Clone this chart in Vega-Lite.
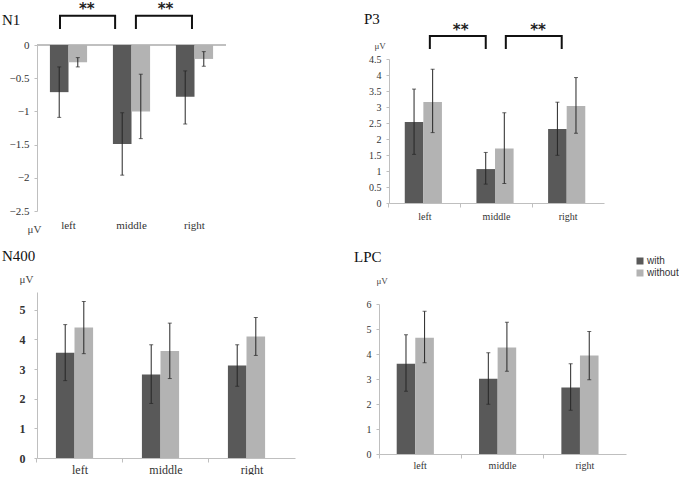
{
  "$schema": "https://vega.github.io/schema/vega-lite/v6.json",
  "background": "white",
  "padding": {"left": 2, "top": 2, "right": 0, "bottom": 0},
  "config": {
    "view": {"stroke": null},
    "axis": {"grid": false, "labelOverlap": false, "labelFont": "Liberation Serif", "labelColor": "#333333", "titleFont": "Liberation Serif", "titleFontWeight": "normal", "titleColor": "#444444", "domainColor": "#bfbfbf", "tickColor": "#bfbfbf"},
    "axisY": {"labelOverlap": false},
    "axisQuantitative": {"labelOverlap": false},
    "title": {"font": "Liberation Serif", "fontSize": 15, "fontWeight": "normal", "color": "#111111", "anchor": "start", "frame": "group"},
    "legend": {"labelFont": "Liberation Sans", "labelFontSize": 10, "labelColor": "#333333"}
  },
  "datasets": {
    "N1": [
      {"region": "left", "cond": "with", "mean": -0.71, "lo": -1.09, "hi": -0.33},
      {"region": "left", "cond": "without", "mean": -0.26, "lo": -0.33, "hi": -0.19},
      {"region": "middle", "cond": "with", "mean": -1.49, "lo": -1.96, "hi": -1.02},
      {"region": "middle", "cond": "without", "mean": -1.0, "lo": -1.41, "hi": -0.44},
      {"region": "right", "cond": "with", "mean": -0.78, "lo": -1.19, "hi": -0.39},
      {"region": "right", "cond": "without", "mean": -0.21, "lo": -0.32, "hi": -0.1}
    ],
    "P3": [
      {"region": "left", "cond": "with", "mean": 2.53, "lo": 1.52, "hi": 3.56},
      {"region": "left", "cond": "without", "mean": 3.16, "lo": 2.2, "hi": 4.18},
      {"region": "middle", "cond": "with", "mean": 1.06, "lo": 0.59, "hi": 1.58},
      {"region": "middle", "cond": "without", "mean": 1.7, "lo": 0.61, "hi": 2.82},
      {"region": "right", "cond": "with", "mean": 2.31, "lo": 1.49, "hi": 3.15},
      {"region": "right", "cond": "without", "mean": 3.03, "lo": 2.18, "hi": 3.92}
    ],
    "N400": [
      {"region": "left", "cond": "with", "mean": 3.55, "lo": 2.61, "hi": 4.5},
      {"region": "left", "cond": "without", "mean": 4.4, "lo": 3.52, "hi": 5.28},
      {"region": "middle", "cond": "with", "mean": 2.82, "lo": 1.84, "hi": 3.82},
      {"region": "middle", "cond": "without", "mean": 3.61, "lo": 2.68, "hi": 4.55},
      {"region": "right", "cond": "with", "mean": 3.12, "lo": 2.42, "hi": 3.82},
      {"region": "right", "cond": "without", "mean": 4.1, "lo": 3.46, "hi": 4.74}
    ],
    "LPC": [
      {"region": "left", "cond": "with", "mean": 3.61, "lo": 2.51, "hi": 4.77},
      {"region": "left", "cond": "without", "mean": 4.65, "lo": 3.65, "hi": 5.71},
      {"region": "middle", "cond": "with", "mean": 3.01, "lo": 1.99, "hi": 4.05},
      {"region": "middle", "cond": "without", "mean": 4.26, "lo": 3.31, "hi": 5.27},
      {"region": "right", "cond": "with", "mean": 2.66, "lo": 1.75, "hi": 3.61},
      {"region": "right", "cond": "without", "mean": 3.94, "lo": 2.97, "hi": 4.9}
    ],
    "N1br": [
      {"id": "a", "k": 1, "px": 0.365, "py": 0.24},
      {"id": "a", "k": 2, "px": 0.365, "py": 0.44},
      {"id": "a", "k": 3, "px": 1.24, "py": 0.44},
      {"id": "a", "k": 4, "px": 1.24, "py": 0.24},
      {"id": "b", "k": 1, "px": 1.57, "py": 0.24},
      {"id": "b", "k": 2, "px": 1.57, "py": 0.44},
      {"id": "b", "k": 3, "px": 2.46, "py": 0.44},
      {"id": "b", "k": 4, "px": 2.46, "py": 0.24}
    ],
    "N1st": [
      {"label": "**", "px": 0.79, "py": 0.535},
      {"label": "**", "px": 2.04, "py": 0.535}
    ],
    "P3br": [
      {"id": "a", "k": 1, "px": 0.57, "py": 4.81},
      {"id": "a", "k": 2, "px": 0.57, "py": 5.22},
      {"id": "a", "k": 3, "px": 1.35, "py": 5.22},
      {"id": "a", "k": 4, "px": 1.35, "py": 4.81},
      {"id": "b", "k": 1, "px": 1.63, "py": 4.81},
      {"id": "b", "k": 2, "px": 1.63, "py": 5.22},
      {"id": "b", "k": 3, "px": 2.41, "py": 5.22},
      {"id": "b", "k": 4, "px": 2.41, "py": 4.81}
    ],
    "P3st": [
      {"label": "**", "px": 1.0, "py": 5.42},
      {"label": "**", "px": 2.08, "py": 5.42}
    ]
  },
  "vconcat": [
    {
      "bounds": "flush",
      "spacing": 163,
      "resolve": {"legend": {"color": "independent"}},
      "hconcat": [
        {
          "width": 189,
          "height": 166,
          "title": {"text": "N1", "dx": -35, "offset": -26},
          "resolve": {"scale": {"x": "independent"}, "axis": {"x": "independent"}},
          "layer": [
            {
              "data": {"name": "N1"},
              "layer": [
                {"mark": {"type": "rule", "color": "#bfbfbf"}, "encoding": {"y": {"datum": 0, "type": "quantitative", "scale": {"domain": [-2.5, 0], "nice": false}, "axis": {"title": "μV", "values": [-2.5, -2, -1.5, -1, -0.5, 0], "format": "~g", "labelOverlap": false, "labelFontSize": 11, "tickSize": 3, "labelPadding": 5, "titleAngle": 0, "titleAlign": "left", "titleBaseline": "alphabetic", "titleX": -10, "titleY": 187, "titleFontSize": 11}}}},
                {
                  "mark": {"type": "bar"},
                  "encoding": {
                    "x": {"field": "region", "type": "nominal", "title": null, "scale": {"paddingInner": 0.41, "paddingOuter": 0.205}, "axis": {"title": null, "labelAngle": 0, "domain": false, "ticks": false, "labelPadding": 8, "labelFontSize": 11}},
                    "xOffset": {"field": "cond", "type": "nominal"},
                    "y": {"field": "mean", "type": "quantitative", "title": "μV", "scale": {"domain": [-2.5, 0], "nice": false}, "axis": {"title": "μV", "values": [-2.5, -2, -1.5, -1, -0.5, 0], "format": "~g", "labelOverlap": false, "labelFontSize": 11, "tickSize": 3, "labelPadding": 5, "titleAngle": 0, "titleAlign": "left", "titleBaseline": "alphabetic", "titleX": -10, "titleY": 187, "titleFontSize": 11}},
                    "color": {"field": "cond", "type": "nominal", "scale": {"domain": ["with", "without"], "range": ["#595959", "#b3b3b3"]}, "legend": null}
                  }
                },
                {"mark": {"type": "rule", "color": "#262626"}, "encoding": {"x": {"field": "region", "type": "nominal", "title": null}, "xOffset": {"field": "cond", "type": "nominal"}, "y": {"field": "lo", "type": "quantitative", "title": "μV", "axis": {"title": "μV", "values": [-2.5, -2, -1.5, -1, -0.5, 0], "format": "~g", "labelOverlap": false, "labelFontSize": 11, "tickSize": 3, "labelPadding": 5, "titleAngle": 0, "titleAlign": "left", "titleBaseline": "alphabetic", "titleX": -10, "titleY": 187, "titleFontSize": 11}}, "y2": {"field": "hi"}}},
                {"mark": {"type": "tick", "size": 4, "thickness": 1, "color": "#262626"}, "encoding": {"x": {"field": "region", "type": "nominal", "title": null}, "xOffset": {"field": "cond", "type": "nominal"}, "y": {"field": "lo", "type": "quantitative", "title": "μV", "axis": {"title": "μV", "values": [-2.5, -2, -1.5, -1, -0.5, 0], "format": "~g", "labelOverlap": false, "labelFontSize": 11, "tickSize": 3, "labelPadding": 5, "titleAngle": 0, "titleAlign": "left", "titleBaseline": "alphabetic", "titleX": -10, "titleY": 187, "titleFontSize": 11}}}},
                {"mark": {"type": "tick", "size": 4, "thickness": 1, "color": "#262626"}, "encoding": {"x": {"field": "region", "type": "nominal", "title": null}, "xOffset": {"field": "cond", "type": "nominal"}, "y": {"field": "hi", "type": "quantitative", "title": "μV", "axis": {"title": "μV", "values": [-2.5, -2, -1.5, -1, -0.5, 0], "format": "~g", "labelOverlap": false, "labelFontSize": 11, "tickSize": 3, "labelPadding": 5, "titleAngle": 0, "titleAlign": "left", "titleBaseline": "alphabetic", "titleX": -10, "titleY": 187, "titleFontSize": 11}}}}
              ]
            },
            {
              "layer": [
                {
                  "data": {"name": "N1br"},
                  "mark": {"type": "line", "color": "#111111", "strokeWidth": 2},
                  "encoding": {
                    "x": {"field": "px", "type": "quantitative", "scale": {"domain": [0, 3], "nice": false, "zero": false}, "axis": null},
                    "y": {"field": "py", "type": "quantitative", "title": "μV", "axis": {"title": "μV", "values": [-2.5, -2, -1.5, -1, -0.5, 0], "format": "~g", "labelOverlap": false, "labelFontSize": 11, "tickSize": 3, "labelPadding": 5, "titleAngle": 0, "titleAlign": "left", "titleBaseline": "alphabetic", "titleX": -10, "titleY": 187, "titleFontSize": 11}},
                    "detail": {"field": "id"},
                    "order": {"field": "k"}
                  }
                },
                {
                  "data": {"name": "N1st"},
                  "mark": {"type": "text", "font": "DejaVu Sans", "fontWeight": "bold", "fontSize": 15, "color": "#222222", "baseline": "middle"},
                  "encoding": {
                    "x": {"field": "px", "type": "quantitative", "axis": null},
                    "y": {"field": "py", "type": "quantitative", "title": "μV", "axis": {"title": "μV", "values": [-2.5, -2, -1.5, -1, -0.5, 0], "format": "~g", "labelOverlap": false, "labelFontSize": 11, "tickSize": 3, "labelPadding": 5, "titleAngle": 0, "titleAlign": "left", "titleBaseline": "alphabetic", "titleX": -10, "titleY": 187, "titleFontSize": 11}},
                    "text": {"field": "label"}
                  }
                }
              ]
            }
          ]
        },
        {
          "width": 215,
          "height": 158,
          "title": {"text": "P3", "dx": -25, "offset": -4},
          "resolve": {"scale": {"x": "independent"}, "axis": {"x": "independent"}},
          "layer": [
            {
              "data": {"name": "P3"},
              "layer": [
                {
                  "mark": {"type": "bar"},
                  "encoding": {
                    "x": {"field": "region", "type": "nominal", "title": null, "scale": {"paddingInner": 0.44, "paddingOuter": 0.22}, "axis": {"title": null, "labelAngle": 0, "tickSize": 4, "bandPosition": -0.393, "labelPadding": 4, "labelFontSize": 10}},
                    "xOffset": {"field": "cond", "type": "nominal"},
                    "y": {"field": "mean", "type": "quantitative", "title": "μV", "scale": {"domain": [0, 4.5], "nice": false, "range": [158, 14]}, "axis": {"title": "μV", "values": [0, 0.5, 1, 1.5, 2, 2.5, 3, 3.5, 4, 4.5], "format": "~g", "labelOverlap": false, "labelFontSize": 10, "tickSize": 3, "labelPadding": 5, "titleAngle": 0, "titleAlign": "left", "titleBaseline": "alphabetic", "titleX": -15, "titleY": 3, "titleFontSize": 9}},
                    "color": {"field": "cond", "type": "nominal", "scale": {"domain": ["with", "without"], "range": ["#595959", "#b3b3b3"]}, "legend": null}
                  }
                },
                {"mark": {"type": "rule", "color": "#262626"}, "encoding": {"x": {"field": "region", "type": "nominal", "title": null}, "xOffset": {"field": "cond", "type": "nominal"}, "y": {"field": "lo", "type": "quantitative", "title": "μV", "axis": {"title": "μV", "values": [0, 0.5, 1, 1.5, 2, 2.5, 3, 3.5, 4, 4.5], "format": "~g", "labelOverlap": false, "labelFontSize": 10, "tickSize": 3, "labelPadding": 5, "titleAngle": 0, "titleAlign": "left", "titleBaseline": "alphabetic", "titleX": -15, "titleY": 3, "titleFontSize": 9}}, "y2": {"field": "hi"}}},
                {"mark": {"type": "tick", "size": 4, "thickness": 1, "color": "#262626"}, "encoding": {"x": {"field": "region", "type": "nominal", "title": null}, "xOffset": {"field": "cond", "type": "nominal"}, "y": {"field": "lo", "type": "quantitative", "title": "μV", "axis": {"title": "μV", "values": [0, 0.5, 1, 1.5, 2, 2.5, 3, 3.5, 4, 4.5], "format": "~g", "labelOverlap": false, "labelFontSize": 10, "tickSize": 3, "labelPadding": 5, "titleAngle": 0, "titleAlign": "left", "titleBaseline": "alphabetic", "titleX": -15, "titleY": 3, "titleFontSize": 9}}}},
                {"mark": {"type": "tick", "size": 4, "thickness": 1, "color": "#262626"}, "encoding": {"x": {"field": "region", "type": "nominal", "title": null}, "xOffset": {"field": "cond", "type": "nominal"}, "y": {"field": "hi", "type": "quantitative", "title": "μV", "axis": {"title": "μV", "values": [0, 0.5, 1, 1.5, 2, 2.5, 3, 3.5, 4, 4.5], "format": "~g", "labelOverlap": false, "labelFontSize": 10, "tickSize": 3, "labelPadding": 5, "titleAngle": 0, "titleAlign": "left", "titleBaseline": "alphabetic", "titleX": -15, "titleY": 3, "titleFontSize": 9}}}}
              ]
            },
            {
              "layer": [
                {
                  "data": {"name": "P3br"},
                  "mark": {"type": "line", "color": "#111111", "strokeWidth": 2},
                  "encoding": {
                    "x": {"field": "px", "type": "quantitative", "scale": {"domain": [0, 3], "nice": false, "zero": false}, "axis": null},
                    "y": {"field": "py", "type": "quantitative", "title": "μV", "axis": {"title": "μV", "values": [0, 0.5, 1, 1.5, 2, 2.5, 3, 3.5, 4, 4.5], "format": "~g", "labelOverlap": false, "labelFontSize": 10, "tickSize": 3, "labelPadding": 5, "titleAngle": 0, "titleAlign": "left", "titleBaseline": "alphabetic", "titleX": -15, "titleY": 3, "titleFontSize": 9}},
                    "detail": {"field": "id"},
                    "order": {"field": "k"}
                  }
                },
                {
                  "data": {"name": "P3st"},
                  "mark": {"type": "text", "font": "DejaVu Sans", "fontWeight": "bold", "fontSize": 15, "color": "#222222", "baseline": "middle"},
                  "encoding": {
                    "x": {"field": "px", "type": "quantitative", "axis": null},
                    "y": {"field": "py", "type": "quantitative", "title": "μV", "axis": {"title": "μV", "values": [0, 0.5, 1, 1.5, 2, 2.5, 3, 3.5, 4, 4.5], "format": "~g", "labelOverlap": false, "labelFontSize": 10, "tickSize": 3, "labelPadding": 5, "titleAngle": 0, "titleAlign": "left", "titleBaseline": "alphabetic", "titleX": -15, "titleY": 3, "titleFontSize": 9}},
                    "text": {"field": "label"}
                  }
                }
              ]
            }
          ]
        }
      ]
    },
    {
      "bounds": "flush",
      "spacing": 84,
      "resolve": {"legend": {"color": "independent"}},
      "hconcat": [
        {
          "width": 258,
          "height": 166,
          "title": {"text": "N400", "dx": -35, "offset": 9},
          "data": {"name": "N400"},
          "layer": [
            {
              "mark": {"type": "bar"},
              "encoding": {
                "x": {"field": "region", "type": "nominal", "title": null, "scale": {"paddingInner": 0.44, "paddingOuter": 0.22}, "axis": {"title": null, "labelAngle": 0, "tickSize": 4, "bandPosition": -0.393, "labelPadding": 2, "labelFontSize": 12}},
                "xOffset": {"field": "cond", "type": "nominal"},
                "y": {"field": "mean", "type": "quantitative", "title": "μV", "scale": {"domain": [0, 5.6], "nice": false}, "axis": {"title": "μV", "values": [0, 1, 2, 3, 4, 5], "labelOverlap": false, "labelFontSize": 12, "labelFontWeight": "bold", "tickSize": 3, "labelPadding": 9, "titleAngle": 0, "titleAlign": "left", "titleBaseline": "alphabetic", "titleX": -18, "titleY": -10, "titleFontSize": 11}},
                "color": {"field": "cond", "type": "nominal", "scale": {"domain": ["with", "without"], "range": ["#595959", "#b3b3b3"]}, "legend": null}
              }
            },
            {"mark": {"type": "rule", "color": "#262626"}, "encoding": {"x": {"field": "region", "type": "nominal", "title": null}, "xOffset": {"field": "cond", "type": "nominal"}, "y": {"field": "lo", "type": "quantitative", "title": "μV", "axis": {"title": "μV", "values": [0, 1, 2, 3, 4, 5], "labelOverlap": false, "labelFontSize": 12, "labelFontWeight": "bold", "tickSize": 3, "labelPadding": 9, "titleAngle": 0, "titleAlign": "left", "titleBaseline": "alphabetic", "titleX": -18, "titleY": -10, "titleFontSize": 11}}, "y2": {"field": "hi"}}},
            {"mark": {"type": "tick", "size": 4, "thickness": 1, "color": "#262626"}, "encoding": {"x": {"field": "region", "type": "nominal", "title": null}, "xOffset": {"field": "cond", "type": "nominal"}, "y": {"field": "lo", "type": "quantitative", "title": "μV", "axis": {"title": "μV", "values": [0, 1, 2, 3, 4, 5], "labelOverlap": false, "labelFontSize": 12, "labelFontWeight": "bold", "tickSize": 3, "labelPadding": 9, "titleAngle": 0, "titleAlign": "left", "titleBaseline": "alphabetic", "titleX": -18, "titleY": -10, "titleFontSize": 11}}}},
            {"mark": {"type": "tick", "size": 4, "thickness": 1, "color": "#262626"}, "encoding": {"x": {"field": "region", "type": "nominal", "title": null}, "xOffset": {"field": "cond", "type": "nominal"}, "y": {"field": "hi", "type": "quantitative", "title": "μV", "axis": {"title": "μV", "values": [0, 1, 2, 3, 4, 5], "labelOverlap": false, "labelFontSize": 12, "labelFontWeight": "bold", "tickSize": 3, "labelPadding": 9, "titleAngle": 0, "titleAlign": "left", "titleBaseline": "alphabetic", "titleX": -18, "titleY": -10, "titleFontSize": 11}}}}
          ]
        },
        {
          "width": 247,
          "height": 162,
          "title": {"text": "LPC", "dx": -25, "offset": -9},
          "data": {"name": "LPC"},
          "layer": [
            {
              "mark": {"type": "bar"},
              "encoding": {
                "x": {"field": "region", "type": "nominal", "title": null, "scale": {"paddingInner": 0.43, "paddingOuter": 0.215}, "axis": {"title": null, "labelAngle": 0, "tickSize": 4, "bandPosition": -0.377, "labelPadding": 2, "labelFontSize": 10}},
                "xOffset": {"field": "cond", "type": "nominal"},
                "y": {"field": "mean", "type": "quantitative", "title": "μV", "scale": {"domain": [0, 6], "nice": false, "range": [162, 12]}, "axis": {"title": "μV", "values": [0, 1, 2, 3, 4, 5, 6], "labelOverlap": false, "labelFontSize": 10, "tickSize": 3, "labelPadding": 5, "titleAngle": 0, "titleAlign": "left", "titleBaseline": "alphabetic", "titleX": -3, "titleY": -9, "titleFontSize": 9}},
                "color": {"field": "cond", "type": "nominal", "scale": {"domain": ["with", "without"], "range": ["#595959", "#b3b3b3"]}, "legend": {"title": null, "orient": "none", "legendX": 256, "legendY": -36, "symbolType": "square", "symbolSize": 49, "symbolStrokeWidth": 0, "padding": 0, "rowPadding": 2, "labelOffset": 2}}
              }
            },
            {"mark": {"type": "rule", "color": "#262626"}, "encoding": {"x": {"field": "region", "type": "nominal", "title": null}, "xOffset": {"field": "cond", "type": "nominal"}, "y": {"field": "lo", "type": "quantitative", "title": "μV", "axis": {"title": "μV", "values": [0, 1, 2, 3, 4, 5, 6], "labelOverlap": false, "labelFontSize": 10, "tickSize": 3, "labelPadding": 5, "titleAngle": 0, "titleAlign": "left", "titleBaseline": "alphabetic", "titleX": -3, "titleY": -9, "titleFontSize": 9}}, "y2": {"field": "hi"}}},
            {"mark": {"type": "tick", "size": 4, "thickness": 1, "color": "#262626"}, "encoding": {"x": {"field": "region", "type": "nominal", "title": null}, "xOffset": {"field": "cond", "type": "nominal"}, "y": {"field": "lo", "type": "quantitative", "title": "μV", "axis": {"title": "μV", "values": [0, 1, 2, 3, 4, 5, 6], "labelOverlap": false, "labelFontSize": 10, "tickSize": 3, "labelPadding": 5, "titleAngle": 0, "titleAlign": "left", "titleBaseline": "alphabetic", "titleX": -3, "titleY": -9, "titleFontSize": 9}}}},
            {"mark": {"type": "tick", "size": 4, "thickness": 1, "color": "#262626"}, "encoding": {"x": {"field": "region", "type": "nominal", "title": null}, "xOffset": {"field": "cond", "type": "nominal"}, "y": {"field": "hi", "type": "quantitative", "title": "μV", "axis": {"title": "μV", "values": [0, 1, 2, 3, 4, 5, 6], "labelOverlap": false, "labelFontSize": 10, "tickSize": 3, "labelPadding": 5, "titleAngle": 0, "titleAlign": "left", "titleBaseline": "alphabetic", "titleX": -3, "titleY": -9, "titleFontSize": 9}}}}
          ]
        }
      ]
    }
  ],
  "spacing": 15,
  "resolve": {"legend": {"color": "independent"}}
}
